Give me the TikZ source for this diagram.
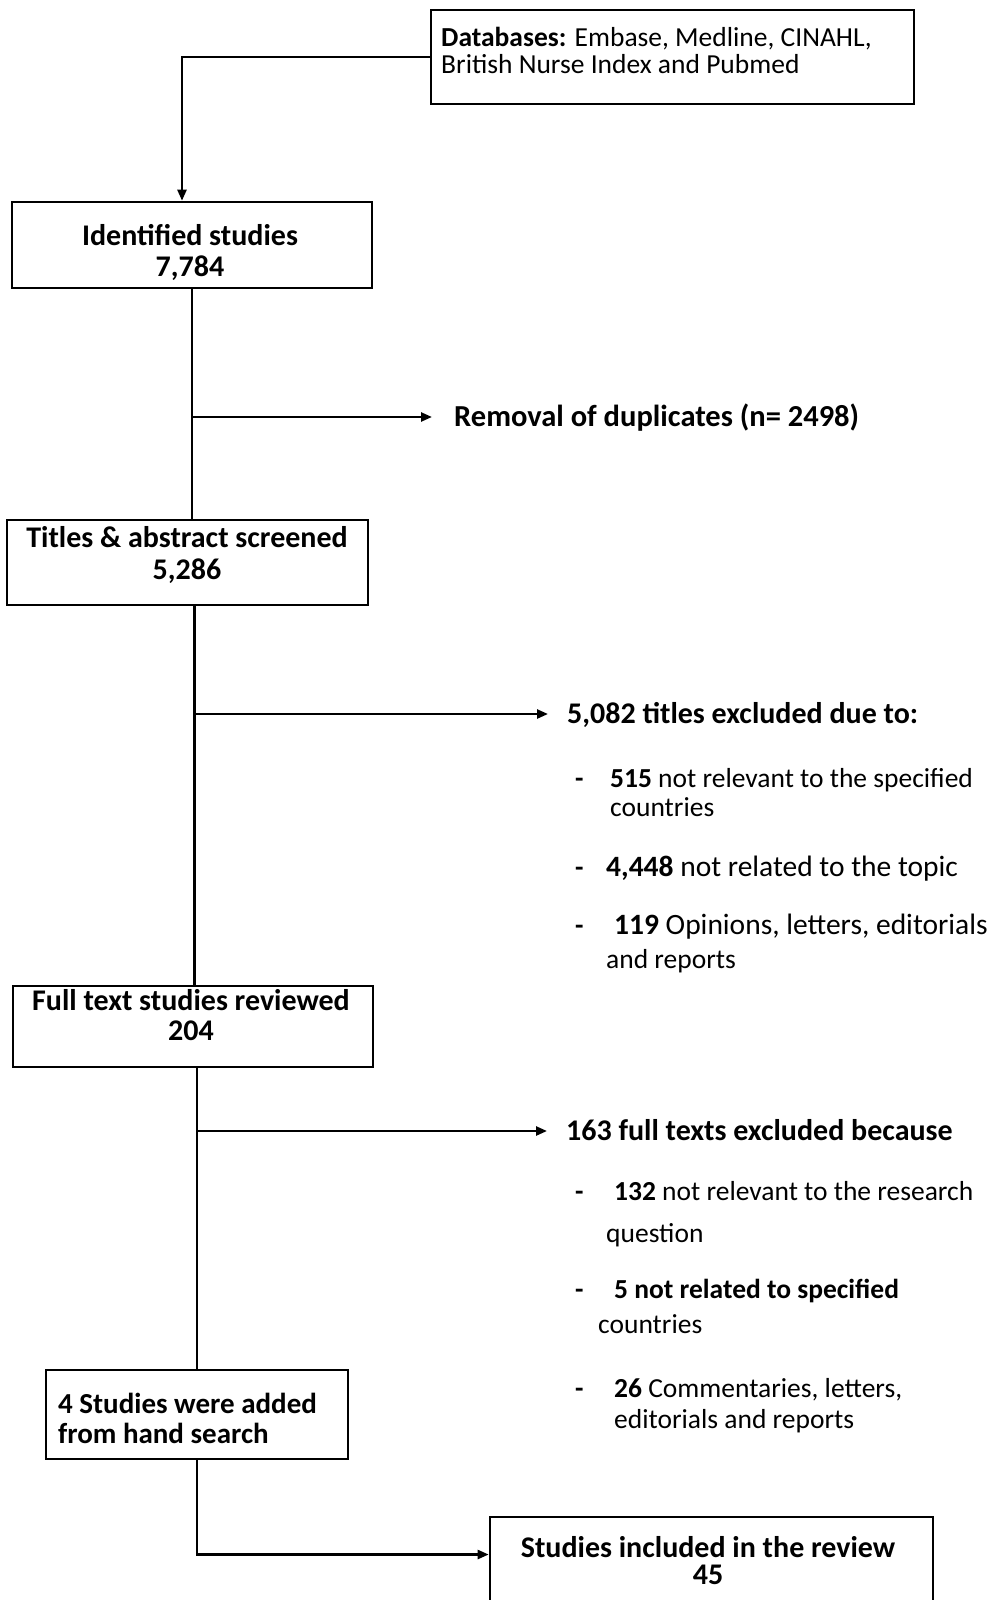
\documentclass[tikz,border=0pt]{standalone}
\usepackage{fontspec}
\setmainfont{Carlito}
\usetikzlibrary{arrows.meta,fit}
\begin{document}
\begin{tikzpicture}[x=1pt,y=-1pt,
  box/.style={draw, line width=2.6pt, inner sep=0pt},
  head/.style={font=\fontsize{30}{32}\selectfont\bfseries, inner sep=0pt},
  item/.style={font=\fontsize{27.5}{30}\selectfont, inner sep=0pt},
  wideitem/.style={font=\fontsize{29.5}{32}\selectfont, inner sep=0pt},
  branch/.style={font=\fontsize{30}{32}\selectfont\bfseries, inner ysep=0pt, text height=22pt, text depth=4pt, anchor=base west},
  dashmark/.style={font=\fontsize{27.5}{30}\selectfont\bfseries, inner sep=0pt, anchor=base west},
  line/.style={line width=2.4pt},
  arr/.style={line width=2.4pt, -{Triangle[length=11pt,width=9pt]}},
]
\useasboundingbox (0,0) rectangle (991,1600);

% boxes
\node[box, fit={(431,10) (914,104)}] (db) {};
\node[box, fit={(12,202) (372,288)}] (ident) {};
\node[box, fit={(7,520) (368,605)}] (titles) {};
\node[box, fit={(13,986) (373,1067)}] (full) {};
\node[box, fit={(46,1370) (348,1459)}] (hand) {};
\node[box, fit={(490,1517) (933,1625)}] (incl) {};

% box texts
\node[item, anchor=base west] (db1) at (441,47) {\textbf{Databases:} Embase, Medline, CINAHL,};
\node[item, anchor=base west] (db2) at (441,74) {British Nurse Index and Pubmed};
\node[head, anchor=base] (id1) at (190,245) {Identified studies};
\node[head, anchor=base] (id2) at (190,276) {7,784};
\node[head, anchor=base] (ti1) at (187,547) {Titles \& abstract screened};
\node[head, anchor=base] (ti2) at (187,579) {5,286};
\node[head, anchor=base] (fu1) at (191,1010) {Full text studies reviewed};
\node[head, anchor=base] (fu2) at (191,1040) {204};
\node[head, anchor=base west, font=\fontsize{29}{31}\selectfont\bfseries] (ha1) at (58,1413) {4 Studies were added};
\node[head, anchor=base west, font=\fontsize{29}{31}\selectfont\bfseries] (ha2) at (58,1443) {from hand search};
\node[head, anchor=base] (in1) at (708,1557) {Studies included in the review};
\node[head, anchor=base] (in2) at (708,1584) {45};

% branch texts
\node[branch, inner xsep=22pt, font=\fontsize{30.5}{32}\selectfont\bfseries] (dup) at (432,426) {Removal of duplicates (n= 2498)};
\node[branch, inner xsep=19pt] (exa) at (548,723) {5,082 titles excluded due to:};
\node[branch, inner xsep=19pt] (exb) at (547,1140) {163 full texts excluded because};

% first exclusion list
\node[dashmark] (da1) at (575,787) {-};
\node[item, anchor=base west] (ea1) at (610,787) {\textbf{515} not relevant to the specified};
\node[item, anchor=base west] (ea1b) at (610,816) {countries};
\node[dashmark] (da2) at (575,876) {-};
\node[wideitem, anchor=base west] (ea2) at (606,876) {\textbf{4,448} not related to the topic};
\node[dashmark] (da3) at (575,934) {-};
\node[wideitem, anchor=base west] (ea3) at (614,934) {\textbf{119} Opinions, letters, editorials};
\node[item, anchor=base west] (ea3b) at (606,968) {and reports};

% second exclusion list
\node[dashmark] (db1d) at (575,1200) {-};
\node[item, anchor=base west] (eb1) at (614,1200) {\textbf{132} not relevant to the research};
\node[item, anchor=base west] (eb1b) at (606,1242) {question};
\node[dashmark] (db2d) at (575,1298) {-};
\node[item, anchor=base west] (eb2) at (614,1298) {\textbf{5 not related to specified}};
\node[item, anchor=base west] (eb2b) at (598,1333) {countries};
\node[dashmark] (db3d) at (575,1397) {-};
\node[item, anchor=base west] (eb3) at (614,1397) {\textbf{26} Commentaries, letters,};
\node[item, anchor=base west] (eb3b) at (614,1428) {editorials and reports};

% connectors
\draw[arr] (db.west) -| ([xshift=-10pt]ident.north);
\draw[line] (ident.south) -- (ident.south |- titles.north);
\draw[arr] (ident.south |- dup.west) -- (dup.west);
\draw[line] ([xshift=7pt]titles.south) -- ([xshift=7pt]titles.south |- full.north);
\draw[arr] ([xshift=7pt]titles.south |- exa.west) -- (exa.west);
\draw[line] (hand.north |- full.south) -- (hand.north);
\draw[arr] (hand.north |- exb.west) -- (exb.west);
\draw[arr] (hand.south) |- ([yshift=16.5pt]incl.west);
\end{tikzpicture}
\end{document}
